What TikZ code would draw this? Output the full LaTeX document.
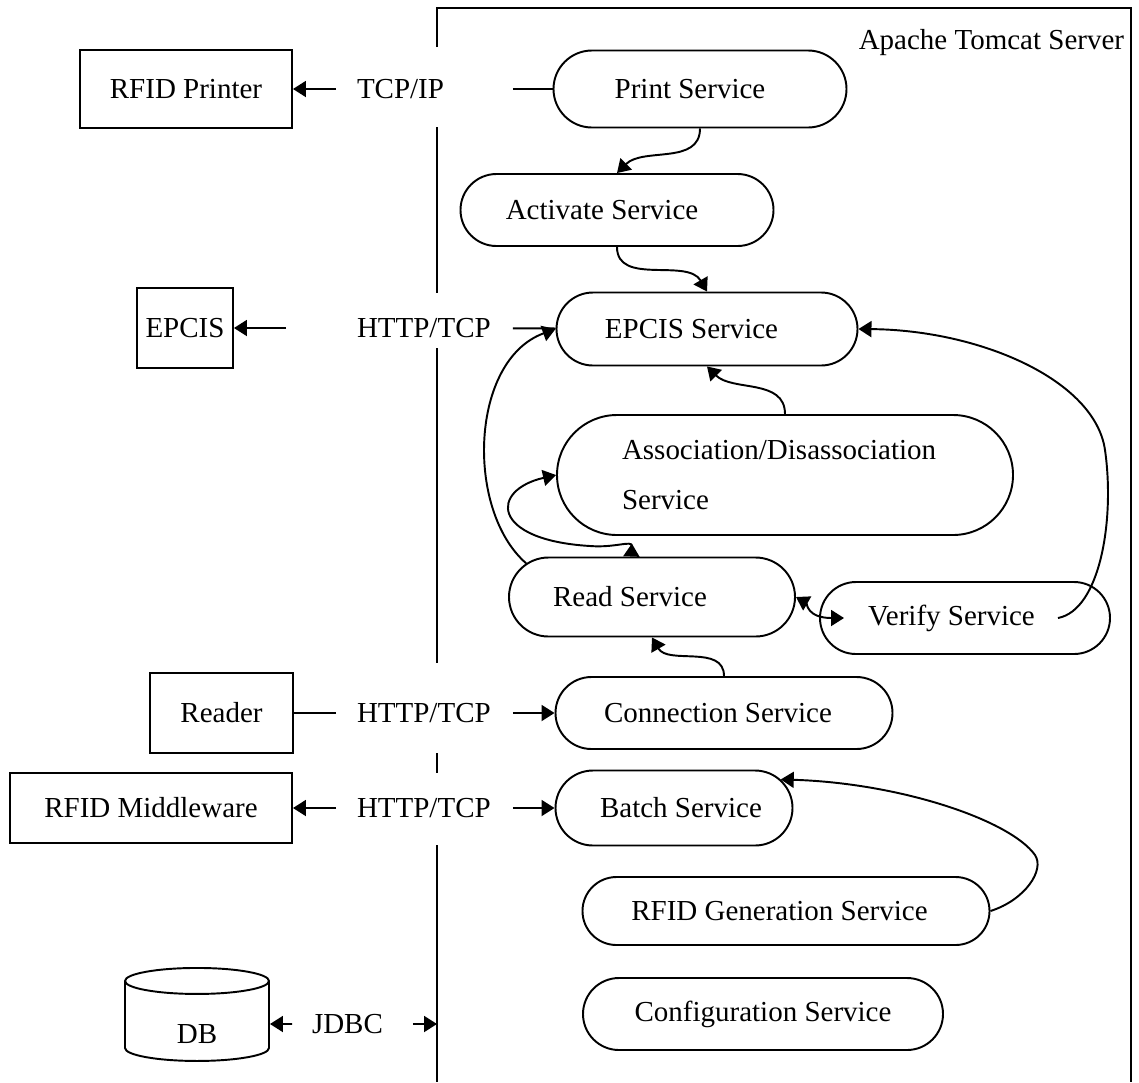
\documentclass[tikz,border=0pt]{standalone}
\usepackage{fontspec}
\setmainfont{Liberation Serif}
\usetikzlibrary{arrows.meta, positioning, shapes.misc, shapes.geometric}

\begin{document}
\begin{tikzpicture}[
		x=0.2mm, y=-0.2mm,
		line width=1.1pt,
		>={Triangle[length=2.6mm, width=3.2mm]},
		rev/.tip={Triangle[length=2.6mm, width=3.2mm, reversed]},
		every node/.append style={font=\fontsize{16.5}{28.45}\selectfont},
		tshift/.style={execute at begin node={\hspace*{#1}}},
		device/.style={rectangle, draw, inner sep=0pt},
		service/.style={rounded rectangle, draw, inner sep=0pt},
		proto/.style={inner xsep=4mm, inner ysep=0pt, text width=27mm, align=left}
		]
		
		\useasboundingbox (0,0) rectangle (1139,1082);
		
		% Tomcat frame, left edge broken behind the protocol labels
		\draw (437,47) -- (437,8) -- (1131,8) -- (1131,1082);
		\draw (437,127) -- (437,293);
		\draw (437,348) -- (437,663);
		\draw (437,753) -- (437,773);
		\draw (437,845) -- (437,1082);
		\node[anchor=east, inner sep=0pt] (title) at (1125,43) {Apache Tomcat Server};
		
		% Outside devices
		\node[device, minimum width=42.4mm, minimum height=15.6mm] (printer) at (186,89) {RFID Printer};
		\node[device, minimum width=19.2mm, minimum height=16mm] (epcis) at (185,328) {EPCIS};
		\node[device, minimum width=28.6mm, minimum height=16mm] (reader) at (221.5,713) {Reader};
		\node[device, minimum width=56.4mm, minimum height=14mm] (mware) at (151,808) {RFID Middleware};
		\node[cylinder, shape border rotate=90, aspect=0.5, draw, text height=7.6mm, text depth=0pt,
			minimum width=28.8mm, minimum height=18.6mm] (db) at (197,1024) {DB};
		
		% Protocol labels
		\node[proto] (tcpip) at (424.5,89) {TCP/IP};
		\node[proto] (http1) at (424.5,328) {HTTP/TCP};
		\node[proto] (http2) at (424.5,713) {HTTP/TCP};
		\node[proto] (http3) at (424.5,808) {HTTP/TCP};
		\node[proto, inner xsep=3.8mm, text width=16.2mm] (jdbc) at (352.5,1024) {JDBC};
		\coordinate (frame_db) at (437,1024);
		
		% Services
		\node[service, tshift=-4mm, minimum width=58.6mm, minimum height=15.4mm] (print) at (700,89) {Print Service};
		\node[service, tshift=-6mm, minimum width=62.6mm, minimum height=14.4mm] (activate) at (617,210) {Activate Service};
		\node[service, tshift=-6.2mm, minimum width=60.2mm, minimum height=14.6mm] (epcissvc) at (707,329) {EPCIS Service};
		\node[service, minimum width=91.2mm, minimum height=24mm, text width=65.2mm, align=left] (assoc) at (785,475) {Association/Disassociation\\Service};
		\node[service, tshift=-8.8mm, minimum width=57.2mm, minimum height=15.8mm] (read) at (652,597) {Read Service};
		\node[service, tshift=-5.4mm, minimum width=58mm, minimum height=14.4mm] (verify) at (965,618) {Verify Service};
		\node[service, tshift=-2.4mm, minimum width=67.4mm, minimum height=14.4mm] (conn) at (724,713) {Connection Service};
		\node[service, tshift=2.8mm, minimum width=47.4mm, minimum height=15mm] (batch) at (674,808) {Batch Service};
		\node[service, tshift=-2.6mm, minimum width=81.4mm, minimum height=13.6mm] (rfidgen) at (786,911) {RFID Generation Service};
		\node[service, minimum width=72mm, minimum height=14.4mm] (config) at (763,1014) {Configuration Service};
		
		% Device links
		\draw[->] (tcpip) -- (printer);
		\draw (tcpip) -- (print);
		\draw[->, shorten <=10mm] (http1) -- (epcis);
		\draw (http1) -- (epcissvc);
		\draw (http2) -- (reader);
		\draw[->] (http2) -- (conn);
		\draw[->] (http3) -- (mware);
		\draw[->] (http3) -- (batch);
		\draw[->] (jdbc) -- (db);
		\draw[->] (jdbc) -- (frame_db);
		
		% Service calls
		\draw[->] (print.south) to[out=-90, in=45] (activate.north);
		\draw[->] (activate.south) to[out=-90, in=120] (epcissvc.north);
		\draw[->] (assoc.north) to[out=90, in=-45] (epcissvc.south);
		\draw[->] (read.165) .. controls (465,510) and (470,360) .. (epcissvc.west);
		\draw[<-rev] (assoc.west) .. controls (490,490) and (490,540) .. (590,546)
			.. controls (615,548) and (632,540) .. (read.117);
		\draw[<->, shorten >=-5mm] (read.east) to[out=-30, in=180] (verify.west);
		\coordinate (verify_tail) at ([xshift=-10.6mm]verify.east);
		\draw[->] (verify_tail) .. controls (1100,610) and (1115,520) .. (1105,450)
			.. controls (1095,380) and (980,330) .. (epcissvc.east);
		\draw[->] (conn.north) to[out=90, in=-60] (read.south);
		\draw[->] (rfidgen.east) .. controls (1025,900) and (1045,870) .. (1035,855)
			.. controls (1010,820) and (900,783) .. (batch.15);
		
	\end{tikzpicture}
\end{document}
